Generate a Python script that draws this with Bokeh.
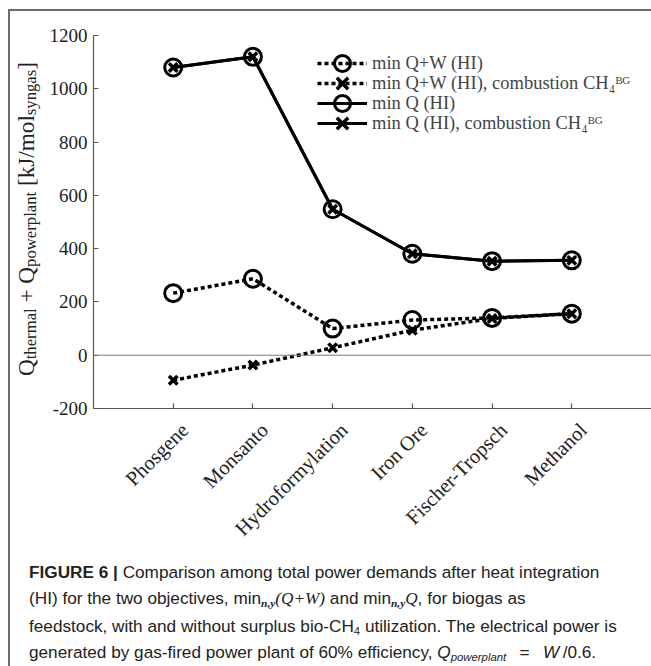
import math, glob
from bokeh.plotting import figure
from bokeh.models import (Range1d, FixedTicker, Span, Legend, LegendItem, Div, LinearAxis)
from bokeh.layouts import column, row
from bokeh.embed import file_html
from bokeh.resources import INLINE

# ---------------- data ----------------
processes = ["Phosgene", "Monsanto", "Hydroformylation", "Iron Ore", "Fischer-Tropsch", "Methanol"]
min_qw_hi = [233, 287, 100, 132, 140, 156]
min_qw_hi_comb = [-94, -37, 28, 94, 138, 156]
min_q_hi = [1080, 1120, 548, 381, 353, 356]
min_q_hi_comb = [1080, 1120, 548, 381, 353, 356]
y_ticks = [-200, 0, 200, 400, 600, 800, 1000, 1200]
legend_labels = ["min Q+W (HI)", "min Q+W (HI), combustion CH\u2084\u1d2e\u1d33",
                 "min Q (HI)", "min Q (HI), combustion CH\u2084\u1d2e\u1d33"]

# category positions on the x axis (1..n)
xpos = list(range(1, len(processes) + 1))

SERIF = "Liberation Serif"

# ---------------- text measuring (for sizing the y label) ----------------
def text_width(txt, size, fname="LiberationSerif-Regular.ttf"):
    try:
        from PIL import ImageFont
        paths = glob.glob("/usr/share/fonts/**/" + fname, recursive=True) + \
                glob.glob("/usr/local/share/fonts/**/" + fname, recursive=True)
        if paths:
            return ImageFont.truetype(paths[0], size).getlength(txt)
    except Exception:
        pass
    return len(txt) * 0.47 * size

# ---------------- geometry ----------------
PAD_L, PAD_T = 8, 9   # white space outside the frame border
LINE = 2              # frame border thickness
YLAB_W = 34           # width of y-label column
INNER_W = 651 - PAD_L - LINE
FW = INNER_W - YLAB_W
FH = 546
ML, MT = 49, 24
MB = FH - MT - 373
CAP_H = 666 - PAD_T - LINE - FH
LABEL_SHIFT_PX = 11.5   # x tick labels sit a little right of their ticks

# ---------------- figure ----------------
X0, X1 = 0, len(processes) + 1
p = figure(width=FW, height=FH, output_backend="svg", toolbar_location=None,
           x_range=Range1d(X0, X1), y_range=Range1d(-200, 1200), margin=0,
           min_border_left=ML, min_border_right=0, min_border_top=MT, min_border_bottom=MB)
p.grid.visible = False
p.outline_line_color = None

main_x = p.xaxis[0]
main_y = p.yaxis[0]
for ax in (main_x, main_y):
    ax.axis_line_color = "#555555"
    ax.axis_line_width = 1.2
    ax.major_tick_line_color = "#555555"
    ax.major_tick_line_width = 1.2
    ax.major_tick_in = 5
    ax.major_tick_out = 0
    ax.minor_tick_line_color = None
    ax.major_label_text_font = SERIF
    ax.major_label_text_color = "#222222"

main_y.ticker = FixedTicker(ticks=y_ticks)
main_y.major_label_overrides = {t: str(t) for t in y_ticks}
main_y.major_label_text_font_size = "19px"
main_y.major_label_standoff = 6

# main x axis keeps line + ticks; its labels are drawn by a second axis
main_x.ticker = FixedTicker(ticks=xpos)
main_x.major_label_overrides = {x: "" for x in xpos}
main_x.major_label_text_font_size = "0px"
main_x.major_label_standoff = 0

frame_w = FW - ML
shift = LABEL_SHIFT_PX / (frame_w / (X1 - X0))
p.extra_x_ranges = {"labels": Range1d(X0 - shift, X1 - shift)}
lab_axis = LinearAxis(x_range_name="labels",
                      ticker=FixedTicker(ticks=xpos),
                      major_label_overrides={x: n for x, n in zip(xpos, processes)},
                      axis_line_color=None, major_tick_line_color=None,
                      minor_tick_line_color=None, major_tick_in=0, major_tick_out=0,
                      major_label_orientation=math.pi / 4, major_label_standoff=18,
                      major_label_text_font=SERIF, major_label_text_font_size="20.5px",
                      major_label_text_color="#222222")
p.add_layout(lab_axis, "below")

p.add_layout(Span(location=0, dimension="width", line_color="#777777", line_width=1))

DOT = "4 3"
r_qw_line = p.line(xpos, min_qw_hi, line_color="black", line_width=3.5, line_dash=DOT)
r_qw_mk = p.scatter(xpos, min_qw_hi, marker="circle", size=17, line_width=3,
                    line_color="black", fill_alpha=0)
r_qwc_line = p.line(xpos, min_qw_hi_comb, line_color="black", line_width=3.5, line_dash=DOT)
r_qwc_mk = p.scatter(xpos, min_qw_hi_comb, marker="x", size=12, line_width=3.5,
                     line_color="black")
r_q_line = p.line(xpos, min_q_hi, line_color="black", line_width=3)
r_q_mk = p.scatter(xpos, min_q_hi, marker="circle", size=17, line_width=3,
                   line_color="black", fill_alpha=0)
r_qc_line = p.line(xpos, min_q_hi_comb, line_color="black", line_width=3)
r_qc_mk = p.scatter(xpos, min_q_hi_comb, marker="x", size=12, line_width=3.5,
                    line_color="black")

# one legend per row so that the sample markers can be drawn full size
LEG_X, LEG_TOP_ROW, ROW_H, GLYPH_H = 224, 345, 20, 40
item_renderers = [[r_qw_line, r_qw_mk], [r_qwc_line, r_qwc_mk],
                  [r_q_line, r_q_mk], [r_qc_line, r_qc_mk]]
for k, (lab, rends) in enumerate(zip(legend_labels, item_renderers)):
    center = LEG_TOP_ROW - ROW_H * k
    lg = Legend(items=[LegendItem(label=lab, renderers=rends)],
                location=(LEG_X, center - GLYPH_H // 2), glyph_width=50, glyph_height=GLYPH_H,
                label_height=GLYPH_H, spacing=0, padding=0, margin=0, label_standoff=5,
                border_line_alpha=0, background_fill_alpha=0,
                label_text_font=SERIF, label_text_font_size="18.5px",
                label_text_baseline="middle")
    p.add_layout(lg)

# ---------------- y axis label as HTML (subscripts) ----------------
SUBF = 0.72
main_parts = ["Q", " + ", "Q", " [kJ/mol", "]"]
sub_parts = ["thermal", "powerplant", "syngas"]
w100 = sum(text_width(t, 100) for t in main_parts) + SUBF * sum(text_width(t, 100) for t in sub_parts)
M = max(16.0, min(28.0, 1.01 * 311.0 / w100 * 100))
sub_css = f"font-size:{SUBF}em;vertical-align:-0.3em;line-height:0;"
ylab_html = (
    f"<div style=\"width:{YLAB_W}px;height:{FH}px;display:flex;justify-content:center;"
    f"align-items:flex-start;padding-top:51px;box-sizing:border-box;\">"
    f"<span style=\"writing-mode:vertical-rl;transform:rotate(180deg);white-space:nowrap;"
    f"font-family:'{SERIF}',serif;font-size:{M:.2f}px;color:#222;\">"
    f"Q<span style=\"{sub_css}\">thermal</span> + Q<span style=\"{sub_css}\">powerplant</span>"
    f" [kJ/mol<span style=\"{sub_css}\">syngas</span>]</span></div>"
)
ylab = Div(text=ylab_html, width=YLAB_W, height=FH, margin=0)

# ---------------- caption ----------------
math_i = "font-family:'Liberation Serif',serif;font-style:italic;"
sub = "font-size:0.66em;vertical-align:-0.3em;line-height:0;"
caption_html = (
    "<div style=\"font-family:'Liberation Sans',Arial,sans-serif;font-size:17.2px;"
    "line-height:26.3px;color:#222;white-space:nowrap;padding:2px 0 0 19px;\">"
    "<b>FIGURE 6 |</b> Comparison among total power demands after heat integration<br>"
    f"(HI) for the two objectives, min<span style=\"{sub}{math_i}font-weight:bold\">n,y</span>"
    f"<span style=\"{math_i}\">(Q+W)</span> and min<span style=\"{sub}{math_i}font-weight:bold\">n,y</span>"
    f"<span style=\"{math_i}\">Q</span>, for biogas as<br>"
    f"feedstock, with and without surplus bio-CH<span style=\"{sub}\">4</span> utilization. "
    "The electrical power is<br>"
    f"generated by gas-fired power plant of 60% efficiency, <i>Q<span style=\"{sub}\">powerplant</span></i>"
    " &#8194;=&#8194; <i>W</i>&#8201;/0.6.</div>"
)
cap = Div(text=caption_html, width=INNER_W, height=CAP_H, margin=0)

# ---------------- frame border lines and outer white space ----------------
top_pad = Div(text="", width=651, height=PAD_T, margin=0)
left_pad = Div(text="", width=PAD_L, height=666 - PAD_T, margin=0)
top_line = Div(text="", width=651 - PAD_L, height=LINE, margin=0,
               styles={"background-color": "#6a6a6a"})
left_line = Div(text="", width=LINE, height=666 - PAD_T - LINE, margin=0,
                styles={"background-color": "#6a6a6a"})

layout = column(
    top_pad,
    row(left_pad,
        column(top_line,
               row(left_line,
                   column(row(ylab, p, spacing=0, margin=0), cap, spacing=0, margin=0),
                   spacing=0, margin=0),
               spacing=0, margin=0),
        spacing=0, margin=0),
    spacing=0, margin=0)

open("out.html", "w").write(file_html(layout, INLINE))
